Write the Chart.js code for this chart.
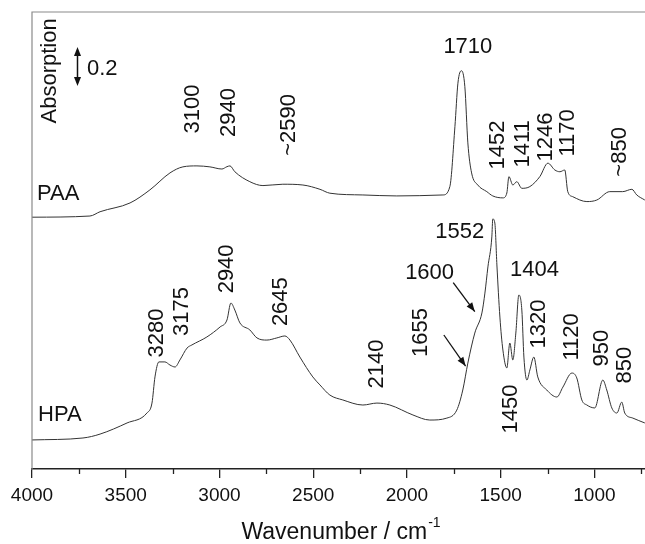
<!DOCTYPE html>
<html><head><meta charset="utf-8">
<script src="https://cdn.jsdelivr.net/npm/chart.js@4.4.0/dist/chart.umd.min.js"></script>
<style>html,body{margin:0;padding:0;background:#fff}#wrap{width:645px;height:544px}</style>
</head><body><div id="wrap"><canvas id="c" width="645" height="544"></canvas></div>
<script>
// ---- data (wavenumber in cm-1, absorption in a.u.) ----
const paaWavenumber = [4000,3691,3637,3477,3371,3264,3195,3120,3051,2987,2960,2944,2918,2838,2768,2662,2555,2464,2411,2235,2054,1808,1771,1744,1728,1709,1691,1675,1655,1622,1574,1542,1488,1467,1456,1435,1414,1387,1344,1291,1248,1211,1184,1158,1142,1115,1040,987,918,849,800,774,731];
const paaAbsorption = [1.286,1.292,1.314,1.359,1.426,1.513,1.544,1.549,1.544,1.533,1.545,1.549,1.519,1.468,1.448,1.455,1.451,1.429,1.409,1.400,1.395,1.400,1.443,1.750,1.973,2.037,1.955,1.667,1.513,1.451,1.417,1.395,1.385,1.410,1.494,1.451,1.468,1.434,1.443,1.494,1.563,1.528,1.519,1.528,1.417,1.391,1.366,1.374,1.417,1.417,1.429,1.400,1.374];
const hpaWavenumber = [4000,3728,3637,3493,3387,3360,3344,3323,3291,3264,3237,3211,3173,3147,3067,2997,2960,2939,2918,2891,2838,2800,2747,2694,2651,2624,2571,2502,2464,2411,2342,2235,2160,2091,1968,1878,1787,1734,1702,1675,1638,1600,1584,1568,1547,1542,1531,1520,1504,1488,1467,1451,1435,1419,1403,1387,1376,1360,1344,1323,1302,1254,1200,1168,1120,1094,1067,1040,998,955,934,907,880,854,838,795,731];
const hpaAbsorption = [0.144,0.154,0.174,0.231,0.282,0.333,0.467,0.544,0.544,0.528,0.518,0.554,0.615,0.631,0.672,0.723,0.759,0.846,0.810,0.744,0.708,0.667,0.656,0.667,0.677,0.656,0.569,0.467,0.426,0.374,0.349,0.323,0.333,0.323,0.272,0.246,0.256,0.297,0.400,0.538,0.692,0.795,0.897,1.031,1.185,1.277,1.256,1.041,0.774,0.605,0.513,0.641,0.554,0.692,0.887,0.810,0.569,0.451,0.503,0.569,0.467,0.400,0.364,0.415,0.487,0.462,0.349,0.323,0.308,0.451,0.400,0.308,0.282,0.338,0.282,0.256,0.231];
const seriesNames = ['PAA','HPA'];
const xTickValues = [4000,3500,3000,2500,2000,1500,1000];
const xMinorTickValues = [3750,3250,2750,2250,1750,1250,750];
const xAxisTitle = 'Wavenumber / cm';
const xAxisTitleSup = '-1';
const yAxisTitle = 'Absorption';
const scaleBarText = '0.2';
const scaleBarSize = 0.2;

// ---- annotation anchors (data coordinates) ----
const rotatedLabels = [
  ['3100',3144,1.841],['2940',2950,1.823],['~2590',2630,1.759],
  ['1452',1515,1.656],['1411',1382,1.662],['1246',1259,1.697],['1170',1142,1.718],['~850',865,1.621],
  ['3280',3333,0.692],['3175',3200,0.802],['2940',2960,1.021],['2645',2672,0.853],
  ['2140',2158,0.533],['1655',1927,0.695],['1450',1447,0.303],['1320',1296,0.738],
  ['1120',1120,0.672],['950',958,0.615],['850',836,0.528]
];
const flatLabels = [['1710',1675,2.159],['1552',1718,1.210],['1600',1879,1.002],['1404',1319,1.015]];
const seriesLabelAnchors = [[3973,1.405],[3968,0.272]];
const arrowAnchors = [[1753,0.950,1638,0.802],[1803,0.682,1687,0.523]];
const scaleBarAnchor = [3760,1.959];
const yTitleAnchor = [3904,2.036];
const scaleTextAnchor = [3707,2.047];

const FONT = '"Liberation Sans", Arial, Helvetica, sans-serif';

function arrowHead(ctx, x1, y1, x2, y2, len, half) {
  const ang = Math.atan2(y2 - y1, x2 - x1);
  ctx.beginPath();
  ctx.moveTo(x2, y2);
  ctx.lineTo(x2 - len*Math.cos(ang) + half*Math.sin(ang), y2 - len*Math.sin(ang) - half*Math.cos(ang));
  ctx.lineTo(x2 - len*Math.cos(ang) - half*Math.sin(ang), y2 - len*Math.sin(ang) + half*Math.cos(ang));
  ctx.closePath();
  ctx.fill();
}

const decor = {
  id: 'decor',
  afterDraw(chart) {
    const {ctx, chartArea: a, scales: {x, y}} = chart;
    ctx.save();
    // frame (left and top)
    ctx.strokeStyle = '#8a8a8a'; ctx.lineWidth = 1.2;
    ctx.beginPath();
    ctx.moveTo(a.left, a.bottom); ctx.lineTo(a.left, a.top); ctx.lineTo(a.right, a.top);
    ctx.stroke();
    // minor ticks
    ctx.strokeStyle = '#222'; ctx.lineWidth = 1.3;
    xMinorTickValues.forEach(v => {
      const px = Math.round(x.getPixelForValue(v)) + 0.5;
      ctx.beginPath(); ctx.moveTo(px, a.bottom); ctx.lineTo(px, a.bottom + 5); ctx.stroke();
    });
    // x axis title with superscript
    ctx.fillStyle = '#111';
    ctx.textBaseline = 'alphabetic';
    ctx.font = '23px ' + FONT;
    const w1 = ctx.measureText(xAxisTitle).width;
    ctx.font = '14px ' + FONT;
    const w2 = ctx.measureText(xAxisTitleSup).width;
    const cx = (a.left + a.right) / 2 + 2;
    const start = cx - (w1 + w2) / 2;
    ctx.font = '23px ' + FONT;
    ctx.textAlign = 'left';
    ctx.fillText(xAxisTitle, start, 538.5);
    ctx.font = '14px ' + FONT;
    ctx.fillText(xAxisTitleSup, start + w1 + 1, 527);

    // annotation text
    ctx.font = '22px ' + FONT;
    ctx.textAlign = 'center'; ctx.textBaseline = 'middle';
    rotatedLabels.forEach(([t, wx, wy]) => {
      ctx.save();
      ctx.translate(x.getPixelForValue(wx), y.getPixelForValue(wy));
      ctx.rotate(-Math.PI / 2);
      ctx.fillText(t, 0, 0);
      ctx.restore();
    });
    flatLabels.forEach(([t, wx, wy]) => ctx.fillText(t, x.getPixelForValue(wx), y.getPixelForValue(wy)));
    // y title
    ctx.save();
    ctx.translate(x.getPixelForValue(yTitleAnchor[0]), y.getPixelForValue(yTitleAnchor[1]));
    ctx.rotate(-Math.PI / 2);
    ctx.fillText(yAxisTitle, 0, 0);
    ctx.restore();
    // series names
    ctx.textAlign = 'left';
    seriesNames.forEach((n, i) => ctx.fillText(n, x.getPixelForValue(seriesLabelAnchors[i][0]), y.getPixelForValue(seriesLabelAnchors[i][1])));
    // scale bar text
    ctx.fillText(scaleBarText, x.getPixelForValue(scaleTextAnchor[0]), y.getPixelForValue(scaleTextAnchor[1]));

    // arrows
    ctx.strokeStyle = '#111'; ctx.lineWidth = 1.3;
    arrowAnchors.forEach(([wx1, wy1, wx2, wy2]) => {
      const x1 = x.getPixelForValue(wx1), y1 = y.getPixelForValue(wy1);
      const x2 = x.getPixelForValue(wx2), y2 = y.getPixelForValue(wy2);
      ctx.beginPath(); ctx.moveTo(x1, y1); ctx.lineTo(x2, y2); ctx.stroke();
      arrowHead(ctx, x1, y1, x2, y2, 9, 3.5);
    });
    // scale bar double arrow
    const sx = Math.round(x.getPixelForValue(scaleBarAnchor[0])) + 0.5;
    const sy1 = y.getPixelForValue(scaleBarAnchor[1]);
    const sy2 = y.getPixelForValue(scaleBarAnchor[1] + scaleBarSize);
    ctx.lineWidth = 1.5;
    ctx.beginPath(); ctx.moveTo(sx, sy1 - 4); ctx.lineTo(sx, sy2 + 4); ctx.stroke();
    arrowHead(ctx, sx, (sy1 + sy2) / 2, sx, sy1, 9, 3.5);
    arrowHead(ctx, sx, (sy1 + sy2) / 2, sx, sy2, 9, 3.5);
    ctx.restore();
  }
};

const toPts = (xs, ys) => xs.map((v, i) => ({x: v, y: ys[i]}));

new Chart(document.getElementById('c'), {
  type: 'line',
  data: {
    datasets: [
      {label: seriesNames[0], data: toPts(paaWavenumber, paaAbsorption), borderColor: '#333', borderWidth: 1, pointRadius: 0, cubicInterpolationMode: 'monotone', fill: false},
      {label: seriesNames[1], data: toPts(hpaWavenumber, hpaAbsorption), borderColor: '#333', borderWidth: 1, pointRadius: 0, cubicInterpolationMode: 'monotone', fill: false}
    ]
  },
  options: {
    responsive: false, animation: false, devicePixelRatio: 1,
    layout: {padding: {left: 32, top: 12, right: 0, bottom: 0}},
    plugins: {legend: {display: false}, tooltip: {enabled: false}},
    scales: {
      x: {
        type: 'linear', reverse: true, min: 730, max: 4000,
        afterBuildTicks: s => { s.ticks = xTickValues.map(v => ({value: v})); },
        afterFit: s => { s.height = 75; },
        ticks: {font: {family: FONT, size: 19}, color: '#111', padding: 6, maxRotation: 0, autoSkip: false, callback: v => String(v)},
        grid: {display: true, drawOnChartArea: false, drawTicks: true, tickLength: 9, color: '#222', lineWidth: 1.3},
        border: {display: true, color: '#222', width: 1.5},
        title: {display: false}
      },
      y: {display: false, min: -0.005, max: 2.338}
    }
  },
  plugins: [decor]
});
</script>
</body></html>
